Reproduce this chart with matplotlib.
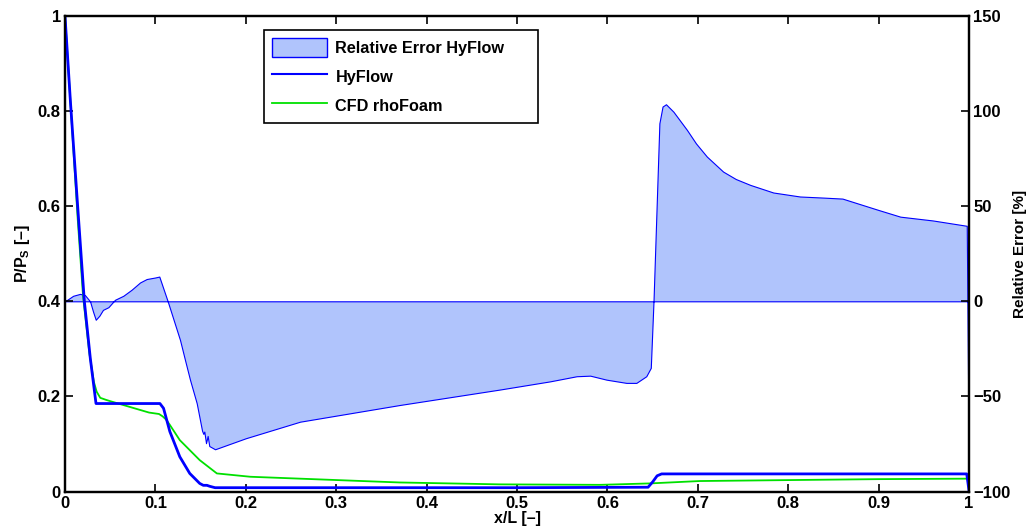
import matplotlib
matplotlib.use('Agg')
import matplotlib.pyplot as plt
from matplotlib.patches import Patch
from matplotlib.lines import Line2D

# ---------------- data ----------------
hy_x = [0, 0.006, 0.014, 0.0214, 0.028, 0.0343, 0.105, 0.109, 0.116, 0.127, 0.138,
        0.149, 0.153, 0.157, 0.160, 0.166, 0.3, 0.5, 0.645, 0.650, 0.655, 0.660,
        0.8, 0.9975, 1.0]
hy_y = [1.0, 0.82, 0.60, 0.40, 0.28, 0.185, 0.185, 0.175, 0.126, 0.073, 0.038,
        0.017, 0.013, 0.013, 0.011, 0.008, 0.008, 0.008, 0.009, 0.020, 0.033, 0.037,
        0.037, 0.037, 0.002]

cfd_x = [0, 0.005, 0.014, 0.020, 0.027, 0.032, 0.035, 0.039, 0.045, 0.050, 0.075,
         0.093, 0.104, 0.108, 0.112, 0.116, 0.127, 0.149, 0.168, 0.205, 0.26, 0.37,
         0.481, 0.592, 0.647, 0.702, 0.8, 0.9, 1.0]
cfd_y = [1.0, 0.85, 0.575, 0.41, 0.29, 0.23, 0.21, 0.197, 0.193, 0.19, 0.176,
         0.166, 0.163, 0.158, 0.151, 0.14, 0.108, 0.066, 0.038, 0.031, 0.027, 0.019,
         0.015, 0.014, 0.017, 0.022, 0.024, 0.026, 0.027]

err_x = [0, 0.009, 0.0166, 0.022, 0.0277, 0.031, 0.034, 0.038, 0.042, 0.048, 0.0553,
         0.0645, 0.0737, 0.083, 0.0903, 0.0996, 0.1043, 0.1136, 0.1272, 0.1327, 0.1383,
         0.1457, 0.1493, 0.1516, 0.1530, 0.1541, 0.156, 0.1578, 0.1596, 0.166, 0.2,
         0.26, 0.3706, 0.481, 0.5365, 0.566, 0.581, 0.599, 0.621, 0.632, 0.643, 0.648,
         0.651, 0.6575, 0.661, 0.6648, 0.673, 0.688, 0.698, 0.71, 0.728, 0.742, 0.758,
         0.7835, 0.813, 0.84, 0.86, 0.88, 0.9, 0.924, 0.96, 0.9975, 1.0]
err_y = [0, 2.9, 3.9, 3.3, 0, -5.4, -9.7, -7.6, -4.5, -3.1, 0.8,
         2.9, 6.1, 9.9, 11.7, 12.5, 13.0, 0, -20.3, -30.8, -41.3,
         -53.6, -62.4, -68.0, -69.7, -68.5, -74.6, -70.8, -76.1, -77.8, -72.0,
         -63.3, -54.5, -46.4, -42.1, -39.4, -39.1, -41.2, -42.9, -42.9, -39.4, -35.0,
         0, 93.6, 102.4, 103.6, 99.7, 90.1, 83.0, 76.1, 68.2, 64.3, 61.2,
         57.2, 55.1, 54.5, 54.0, 51.0, 48.0, 44.5, 42.5, 39.7, -100]

x_ticks = [0, 0.1, 0.2, 0.3, 0.4, 0.5, 0.6, 0.7, 0.8, 0.9, 1]
x_ticklabels = ['0', '0.1', '0.2', '0.3', '0.4', '0.5', '0.6', '0.7', '0.8', '0.9', '1']
yl_ticks = [0, 0.2, 0.4, 0.6, 0.8, 1]
yl_ticklabels = ['0', '0.2', '0.4', '0.6', '0.8', '1']
yr_ticks = [-100, -50, 0, 50, 100, 150]
yr_ticklabels = ['\u2212100', '\u221250', '0', '50', '100', '150']

# ---------------- style ----------------
plt.rcParams['font.family'] = ['Liberation Sans', 'DejaVu Sans']
plt.rcParams['font.weight'] = 'bold'
plt.rcParams['axes.labelweight'] = 'bold'
plt.rcParams['mathtext.fontset'] = 'custom'
plt.rcParams['mathtext.rm'] = 'Liberation Sans:bold'
plt.rcParams['mathtext.bf'] = 'Liberation Sans:bold'
plt.rcParams['mathtext.it'] = 'Liberation Sans:bold'

fill_color = '#b0c4fc'
blue = '#0000ff'
green = '#00e000'

fig = plt.figure(figsize=(10.29, 5.32), dpi=100)
ax1 = fig.add_axes([65 / 1029, (532 - 491.5) / 532, 904 / 1029, 475.5 / 532])
ax2 = ax1.twinx()

# error area on right axis
ax2.fill_between(err_x, 0, err_y, facecolor=fill_color, edgecolor=blue, linewidth=0.8)
ax2.set_ylim(-100, 150)
ax2.set_yticks(yr_ticks)
ax2.set_yticklabels(yr_ticklabels)
ax2.set_ylabel('Relative Error [%]', fontsize=11, labelpad=2)

# pressure lines on left axis
ax1.plot(cfd_x, cfd_y, color=green, linewidth=1.3)
ax1.plot(hy_x, hy_y, color=blue, linewidth=2.0)
ax1.set_xlim(0, 1)
ax1.set_ylim(0, 1)
ax1.set_xticks(x_ticks)
ax1.set_xticklabels(x_ticklabels)
ax1.set_yticks(yl_ticks)
ax1.set_yticklabels(yl_ticklabels)
ax1.set_xlabel('x/L [\u2013]', fontsize=11.5, labelpad=0)
ax1.set_ylabel('P/P$_{\\mathbf{S}}$ [\u2013]', fontsize=11.5, labelpad=4)

ax1.set_zorder(ax2.get_zorder() + 1)
ax1.patch.set_visible(False)

for ax in (ax1, ax2):
    for s in ax.spines.values():
        s.set_linewidth(1.6)
ax1.tick_params(axis='x', direction='in', length=6, width=1.2, labelsize=12, pad=3,
                top=True)
ax1.tick_params(axis='y', direction='in', length=6, width=1.2, labelsize=12, pad=3,
                right=False)
ax2.tick_params(axis='y', direction='in', length=6, width=1.2, labelsize=12, pad=3)

handles = [Patch(facecolor=fill_color, edgecolor=blue, linewidth=1.0),
           Line2D([], [], color=blue, linewidth=1.5),
           Line2D([], [], color=green, linewidth=1.3)]
labels = ['Relative Error HyFlow', 'HyFlow', 'CFD rhoFoam']
leg = ax1.legend(handles, labels, loc='upper left',
                 bbox_to_anchor=(0.22, 0.75, 0.303, 0.221), mode='expand',
                 fancybox=False, frameon=True, edgecolor='black', fontsize=11.7,
                 handlelength=3.4, handleheight=1.4, labelspacing=0.63,
                 borderpad=0.5, handletextpad=0.5, borderaxespad=0)
leg.get_frame().set_linewidth(1.2)
leg.get_frame().set_alpha(1)

fig.savefig('out.png', dpi=100)
